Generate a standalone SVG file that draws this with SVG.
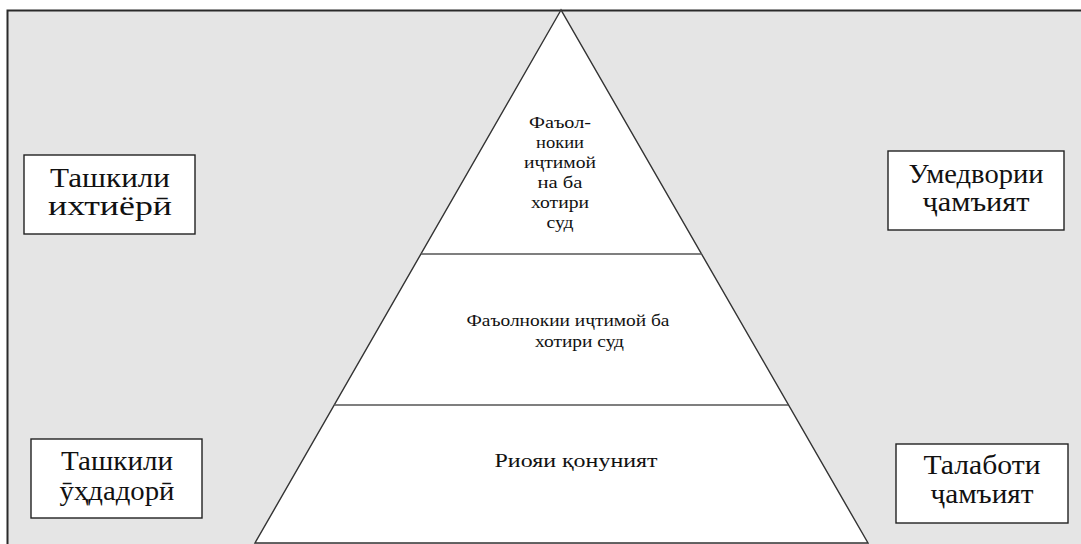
<svg xmlns="http://www.w3.org/2000/svg" width="1081" height="544" viewBox="0 0 1081 544">
<style>
.frame{fill:#e5e5e5;stroke:#2a2a2a;stroke-width:2}
.pyr{fill:#ffffff;stroke:#333333;stroke-width:1.4}
.div{stroke:#555555;stroke-width:1.6;fill:none}
.box{fill:#ffffff;stroke:#222222;stroke-width:1.4}
.bt{font-family:"Liberation Serif","DejaVu Serif",serif;font-size:28px;fill:#111111;text-anchor:middle}
.pt{font-family:"Liberation Serif","DejaVu Serif",serif;font-size:16px;fill:#111111;text-anchor:middle}
.pm{font-family:"Liberation Serif","DejaVu Serif",serif;font-size:17px;fill:#111111;text-anchor:middle}
.pb{font-family:"Liberation Serif","DejaVu Serif",serif;font-size:19px;fill:#111111;text-anchor:middle}
</style>
<rect width="1081" height="544" fill="#ffffff"/>
<rect class="frame" x="7.5" y="10.5" width="1090" height="550"/>
<g id="pyramid">
<polygon class="pyr" points="561,10 255,543 868,543"/>
</g>
<g id="connectors">
<line class="div" x1="421" y1="254" x2="702" y2="254"/>
<line class="div" x1="334" y1="405" x2="788" y2="405"/>
</g>
<g id="level-top">
<text class="pt" x="560" y="128" textLength="62" lengthAdjust="spacingAndGlyphs">Фаъол-</text>
<text class="pt" x="560" y="148" textLength="48" lengthAdjust="spacingAndGlyphs">нокии</text>
<text class="pt" x="560" y="168" textLength="72" lengthAdjust="spacingAndGlyphs">иҷтимой</text>
<text class="pt" x="560" y="188" textLength="45" lengthAdjust="spacingAndGlyphs">на ба</text>
<text class="pt" x="560" y="208" textLength="58" lengthAdjust="spacingAndGlyphs">хотири</text>
<text class="pt" x="560" y="228" textLength="27" lengthAdjust="spacingAndGlyphs">суд</text>
</g>
<g id="level-middle">
<text class="pm" x="568" y="326" textLength="203" lengthAdjust="spacingAndGlyphs">Фаъолнокии иҷтимой ба</text>
<text class="pm" x="579.5" y="347" textLength="89" lengthAdjust="spacingAndGlyphs">хотири суд</text>
</g>
<g id="level-bottom">
<text class="pb" x="576" y="467" textLength="163" lengthAdjust="spacingAndGlyphs">Риояи қонуният</text>
</g>
<g id="box-tashkili-ikhtiyori">
<rect class="box" x="24" y="155" width="171" height="79"/>
<text class="bt" x="110" y="187" textLength="120" lengthAdjust="spacingAndGlyphs">Ташкили</text>
<text class="bt" x="110" y="215" textLength="124" lengthAdjust="spacingAndGlyphs">ихтиёрӣ</text>
</g>
<g id="box-umedvorii-jamiyat">
<rect class="box" x="888" y="151" width="176" height="79"/>
<text class="bt" x="976" y="183" textLength="135" lengthAdjust="spacingAndGlyphs">Умедвории</text>
<text class="bt" x="976" y="211" textLength="107" lengthAdjust="spacingAndGlyphs">ҷамъият</text>
</g>
<g id="box-tashkili-uhdadori">
<rect class="box" x="31" y="439" width="171" height="79"/>
<text class="bt" x="117" y="470" textLength="112" lengthAdjust="spacingAndGlyphs">Ташкили</text>
<text class="bt" x="117" y="500" textLength="115" lengthAdjust="spacingAndGlyphs">ӯҳдадорӣ</text>
</g>
<g id="box-talaboti-jamiyat">
<rect class="box" x="896" y="444" width="172" height="79"/>
<text class="bt" x="982" y="474" textLength="117" lengthAdjust="spacingAndGlyphs">Талаботи</text>
<text class="bt" x="982" y="503" textLength="103" lengthAdjust="spacingAndGlyphs">ҷамъият</text>
</g>
</svg>
